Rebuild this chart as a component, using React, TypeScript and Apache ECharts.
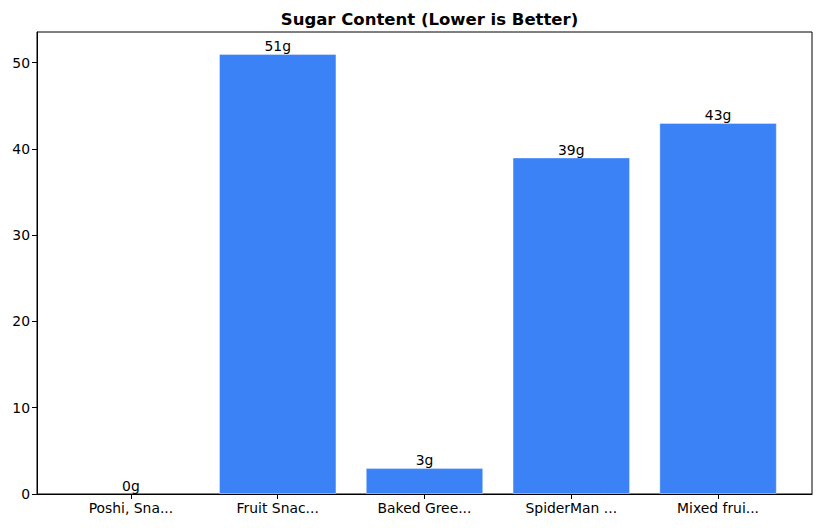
import React, { useEffect, useRef } from "react";
import * as echarts from "echarts";

const categories = ["Poshi, Sna...", "Fruit Snac...", "Baked Gree...", "SpiderMan ...", "Mixed frui..."];
const sugarValues = [0, 51, 3, 39, 43];
const yTicks = [0, 10, 20, 30, 40, 50];

const W = 822;
const H = 528;
const GRID_LEFT = 37;
const GRID_RIGHT = 10;
const GRID_TOP = 32;
const GRID_BOTTOM = 34;
const X_MIN = -0.64;
const X_MAX = categories.length - 1 + 0.64;
const Y_MAX = Math.max(...sugarValues) * 1.05;

export default function App() {
  const ref = useRef<HTMLDivElement>(null);
  useEffect(() => {
    if (!ref.current) return;
    const chart = echarts.init(ref.current, null, { renderer: "svg" });
    const plotW = W - GRID_LEFT - GRID_RIGHT;
    const barW = (0.8 * plotW) / (X_MAX - X_MIN);
    const font = "DejaVu Sans";
    const idx = categories.map((_, i) => i);
    chart.setOption({
      animation: false,
      backgroundColor: "#ffffff",
      textStyle: { fontFamily: font },
      title: {
        text: "Sugar Content (Lower is Better)",
        left: GRID_LEFT + plotW / 2,
        textAlign: "center",
        top: 6,
        textStyle: { fontFamily: font, fontSize: 16.5, fontWeight: "bold", color: "#000" },
      },
      grid: {
        left: GRID_LEFT,
        right: GRID_RIGHT,
        top: GRID_TOP,
        bottom: GRID_BOTTOM,
        show: true,
        borderColor: "#000",
        borderWidth: 1,
        backgroundColor: "transparent",
      },
      xAxis: {
        type: "value",
        min: X_MIN,
        max: X_MAX,
        axisLine: { show: true, onZero: false, lineStyle: { color: "#000", width: 1 } },
        axisTick: { show: true, customValues: idx, length: 5, lineStyle: { color: "#000" } },
        axisLabel: {
          show: true,
          customValues: idx,
          formatter: (v: number) => categories[Math.round(v)] ?? "",
          color: "#000",
          fontFamily: font,
          fontSize: 13.9,
          margin: 7,
        },
        splitLine: { show: false },
      },
      yAxis: {
        type: "value",
        min: 0,
        max: Y_MAX,
        axisLine: { show: true, onZero: false, lineStyle: { color: "#000", width: 1 } },
        axisTick: { show: true, customValues: yTicks, length: 5, lineStyle: { color: "#000" } },
        axisLabel: {
          show: true,
          customValues: yTicks,
          color: "#000",
          fontFamily: font,
          fontSize: 13.9,
          margin: 7,
        },
        splitLine: { show: false },
      },
      series: [
        {
          type: "bar",
          data: sugarValues.map((v, i) => ({
            value: [i, v],
            itemStyle: v === 0 ? { borderWidth: 0 } : undefined,
          })),
          barWidth: barW,
          itemStyle: { color: "#3b82f6", borderColor: "rgba(255,255,255,0.35)", borderWidth: 1 },
          label: {
            show: true,
            position: "top",
            distance: 1,
            formatter: (p: any) => `${p.value[1]}g`,
            color: "#000",
            fontFamily: font,
            fontSize: 13.9,
          },
        },
      ],
    });
    return () => chart.dispose();
  }, []);
  return <div ref={ref} style={{ position: "fixed", left: 0, top: 0, width: W, height: H }} />;
}
